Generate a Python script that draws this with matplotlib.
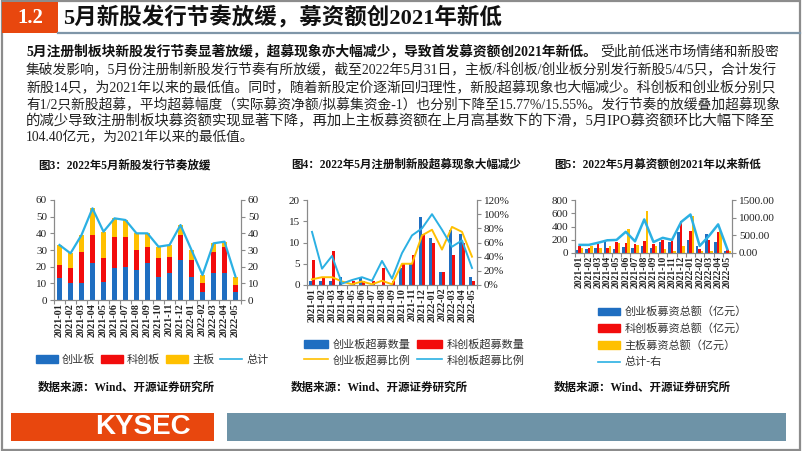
import matplotlib
matplotlib.use("Agg")
import matplotlib.pyplot as plt
from matplotlib.patches import Rectangle, Patch
from matplotlib.lines import Line2D
import numpy as np

CJK = ["Noto Sans CJK SC", "DejaVu Sans"]
MIX = ["Liberation Serif", "Noto Sans CJK SC"]
plt.rcParams["font.family"] = MIX

months = ["2021-01", "2021-02", "2021-03", "2021-04", "2021-05", "2021-06",
          "2021-07", "2021-08", "2021-09", "2021-10", "2021-11", "2021-12",
          "2022-01", "2022-02", "2022-03", "2022-04", "2022-05"]

# fig 3: new listings per month
issue_cyb = [13, 10, 10, 22, 11, 19, 20, 18, 22, 14, 16, 24, 14, 5, 16, 16, 5]
issue_kcb = [8, 9, 19, 17, 14, 19, 18, 12, 10, 11, 10, 15, 10, 5, 13, 16, 4]
issue_main = [12, 9, 10, 16, 16, 11, 10, 10, 8, 7, 7, 6, 6, 5, 5, 3, 5]
issue_total = [33, 28, 39, 55, 41, 49, 48, 40, 40, 32, 33, 45, 30, 15, 34, 35, 14]

# fig 4: over-raising
over_cyb_n = [1, 1, 1, 2, 0, 2, 0, 0, 0, 4, 5, 16, 11, 3, 13, 12, 2]
over_kcb_n = [6, 2, 8, 0, 1, 1, 1, 4, 1, 5, 7, 12, 10, 3, 7, 10, 1]
over_cyb_pct = [8, 11, 11, 5, 1, 5, 1, 6, 1, 30, 30, 70, 78, 50, 82, 75, 40]
over_kcb_pct = [75, 23, 41, 2, 7, 11, 6, 34, 9, 45, 70, 80, 100, 78, 54, 63, 24]

# fig 5: funds raised (100m yuan)
raise_cyb = [50, 60, 70, 170, 60, 90, 80, 110, 80, 170, 160, 310, 200, 110, 290, 165, 35]
raise_kcb = [110, 70, 140, 80, 160, 150, 130, 175, 130, 200, 180, 490, 335, 60, 190, 310, 40]
raise_main = [70, 100, 80, 110, 150, 360, 120, 640, 100, 60, 30, 100, 560, 30, 30, 325, 30]
raise_total = [230, 230, 290, 360, 370, 600, 330, 950, 310, 430, 370, 880, 1090, 200, 480, 810, 104]

BLUE = "#1F6EC1"
RED = "#F20C0C"
YEL = "#FFC000"
CYAN = "#2BB0E3"
GRAY = "#8A8A8A"
TXT = "#222222"

fig = plt.figure(figsize=(8.02, 4.51), dpi=100)
W, H = 802.0, 451.0


def fx(x):
    return x / W


def fy(y):
    return 1 - y / H


# frame, header and footer
fig.patches.append(Rectangle((0.002, 0.003), 0.996, 0.994, transform=fig.transFigure,
                             fill=False, ec="#8C8C8C", lw=1.6))
fig.patches.append(Rectangle((fx(2), fy(33)), fx(56), 31 / H, transform=fig.transFigure,
                             fc="#E8470E", ec="none"))
fig.add_artist(Line2D([fx(58), fx(800)], [fy(33), fy(33)], transform=fig.transFigure,
                      color="#7F96A8", lw=1.6))
fig.text(fx(30), fy(18), "1.2", color="white", fontsize=15, fontweight="bold",
         ha="center", va="center", family=["Liberation Serif"])
fig.text(fx(63), fy(18), "5月新股发行节奏放缓，募资额创2021年新低", color="#111111",
         fontsize=16.2, fontweight="bold", ha="left", va="center", family=MIX)

fig.patches.append(Rectangle((fx(11), fy(441)), fx(203), 28 / H, transform=fig.transFigure,
                             fc="#E8470E", ec="none"))
fig.patches.append(Rectangle((fx(227), fy(441)), fx(559), 28 / H, transform=fig.transFigure,
                             fc="#6E93A7", ec="none"))
fig.text(fx(143), fy(427), "KYSEC", color="white", fontsize=20, fontweight="bold",
         ha="center", va="center", family=["Liberation Sans"])

# paragraph
body_bold = "5月注册制板块新股发行节奏显著放缓，超募现象亦大幅减少，导致首发募资额创2021年新低。"
body_lines = [
    "受此前低迷市场情绪和新股密",
    "集破发影响，5月份注册制新股发行节奏有所放缓，截至2022年5月31日，主板/科创板/创业板分别发行新股5/4/5只，合计发行",
    "新股14只，为2021年以来的最低值。同时，随着新股定价逐渐回归理性，新股超募现象也大幅减少。科创板和创业板分别只",
    "有1/2只新股超募，平均超募幅度（实际募资净额/拟募集资金-1）也分别下降至15.77%/15.55%。发行节奏的放缓叠加超募现象",
    "的减少导致注册制板块募资额实现显著下降，再加上主板募资额在上月高基数下的下滑，5月IPO募资额环比大幅下降至",
    "104.40亿元，为2021年以来的最低值。",
]
line_y = [52, 69, 87, 104, 121, 138]
fs_body = 9.2
x0, x_right = 26, 776
fig.canvas.draw()
r = fig.canvas.get_renderer()

# first line: bold lead-in followed by regular text, stretched to the right edge
tb = fig.text(fx(x0), fy(line_y[0]), body_bold, fontsize=fs_body, fontweight="bold",
              color="#111111", va="center", family=MIX)
tn = fig.text(0, fy(line_y[0]), body_lines[0], fontsize=fs_body, color=TXT,
              va="center", family=MIX)
w_total = tb.get_window_extent(r).width + tn.get_window_extent(r).width
k = (x_right - x0 - 3) / w_total
tb.set_fontsize(fs_body * k)
tn.set_fontsize(fs_body * k)
tn.set_x((x0 + tb.get_window_extent(r).width + 3) / W)

for i, (s, y) in enumerate(zip(body_lines[1:], line_y[1:])):
    t = fig.text(fx(x0), fy(y), s, fontsize=fs_body, color=TXT, va="center", family=MIX)
    if i < 4:
        w = t.get_window_extent(r).width
        t.set_fontsize(fs_body * (x_right - x0) / w)
    else:
        t.set_fontsize(fs_body * 1.07)

# chart titles and sources
titles = ["图3：2022年5月新股发行节奏放缓", "图4：2022年5月注册制新股超募现象大幅减少",
          "图5：2022年5月募资额创2021年以来新低"]
for xx, t in zip([38, 291, 554], titles):
    fig.text(fx(xx), fy(165), t, fontsize=8.3, fontweight="bold", color="#111111",
             va="center", family=MIX)
    fig.text(fx(xx), fy(388), "数据来源：Wind、开源证券研究所", fontsize=8.3,
             fontweight="bold", color="#111111", va="center", family=MIX)

x = np.arange(len(months))


def style(ax, ax2, xfs=7.3):
    for a in (ax, ax2):
        a.spines["top"].set_visible(False)
        for s in ("left", "right", "bottom"):
            a.spines[s].set_color(GRAY)
            a.spines[s].set_linewidth(0.8)
        a.tick_params(axis="y", labelsize=8, colors=TXT, length=3, width=0.8, pad=2)
        a.tick_params(axis="y", color=GRAY)
    ax.set_xlim(-0.5, len(months) - 0.5)
    ax.set_xticks(x)
    ax.set_xticklabels(months, rotation=90, fontsize=xfs, fontweight="bold", color=TXT)
    ax.set_xticks(np.arange(len(months) + 1) - 0.5, minor=True)
    ax.tick_params(axis="x", which="major", length=0, pad=2)
    ax.tick_params(axis="x", which="minor", length=3, color=GRAY, width=0.8)


# Figure 3
ax3 = fig.add_axes([fx(54), fy(300), fx(187), 100 / H])
ax3b = ax3.twinx()
ax3.bar(x, issue_cyb, 0.52, color=BLUE)
ax3.bar(x, issue_kcb, 0.52, bottom=issue_cyb, color=RED)
ax3.bar(x, issue_main, 0.52, bottom=np.add(issue_cyb, issue_kcb), color=YEL)
ax3b.plot(x, issue_total, color=CYAN, lw=1.6)
for a in (ax3, ax3b):
    a.set_ylim(0, 60)
    a.set_yticks(range(0, 61, 10))
style(ax3, ax3b)
fig.legend(handles=[Patch(color=BLUE, label="创业板"), Patch(color=RED, label="科创板"),
                    Patch(color=YEL, label="主板"), Line2D([], [], color=CYAN, lw=1.2, label="总计")],
           loc="center left", bbox_to_anchor=(fx(36), fy(360)), ncol=4, frameon=False,
           prop={"family": CJK, "size": 8}, handlelength=2.0, handletextpad=0.35,
           columnspacing=0.5, labelcolor="#333333", borderpad=0, borderaxespad=0)

# Figure 4
ax4 = fig.add_axes([fx(307), fy(285), fx(170), 85 / H])
ax4b = ax4.twinx()
bw = 0.34
ax4.bar(x - bw / 2, over_cyb_n, bw, color=BLUE)
ax4.bar(x + bw / 2, over_kcb_n, bw, color=RED)
ax4b.plot(x, np.array(over_cyb_pct) / 100, color=YEL, lw=1.4)
ax4b.plot(x, np.array(over_kcb_pct) / 100, color=CYAN, lw=1.4)
ax4.set_ylim(0, 20)
ax4.set_yticks(range(0, 21, 5))
ax4b.set_ylim(0, 1.2)
ax4b.set_yticks(np.arange(0, 1.21, 0.2))
ax4b.set_yticklabels([f"{v}%" for v in range(0, 121, 20)])
style(ax4, ax4b)
fig.legend(handles=[Patch(color=BLUE, label="创业板超募数量"), Line2D([], [], color=YEL, lw=1.2, label="创业板超募比例"),
                    Patch(color=RED, label="科创板超募数量"), Line2D([], [], color=CYAN, lw=1.2, label="科创板超募比例")],
           loc="center left", bbox_to_anchor=(fx(304), fy(352)), ncol=2, frameon=False,
           prop={"family": CJK, "size": 8}, handlelength=2.2, handletextpad=0.4,
           columnspacing=0.6, labelspacing=0.45, labelcolor="#333333", borderpad=0, borderaxespad=0)

# Figure 5
ax5 = fig.add_axes([fx(575), fy(253), fx(157), 53 / H])
ax5b = ax5.twinx()
bw = 0.27
ax5.bar(x - bw, raise_cyb, bw, color=BLUE)
ax5.bar(x, raise_kcb, bw, color=RED)
ax5.bar(x + bw, raise_main, bw, color=YEL)
ax5b.plot(x, raise_total, color=CYAN, lw=1.8)
ax5.set_ylim(0, 800)
ax5.set_yticks(range(0, 801, 200))
ax5b.set_ylim(0, 1500)
ax5b.set_yticks([0, 500, 1000, 1500])
ax5b.set_yticklabels(["0.00", "500.00", "1000.00", "1500.00"])
style(ax5, ax5b, xfs=7.0)
fig.legend(handles=[Patch(color=BLUE, label="创业板募资总额（亿元）"), Patch(color=RED, label="科创板募资总额（亿元）"),
                    Patch(color=YEL, label="主板募资总额（亿元）"), Line2D([], [], color=CYAN, lw=1.2, label="总计-右")],
           loc="center left", bbox_to_anchor=(fx(598), fy(337)), ncol=1, frameon=False,
           prop={"family": CJK, "size": 8}, handlelength=2.0, handletextpad=0.4,
           labelspacing=0.55, labelcolor="#333333", borderpad=0, borderaxespad=0)

fig.savefig("out.png", dpi=100)
